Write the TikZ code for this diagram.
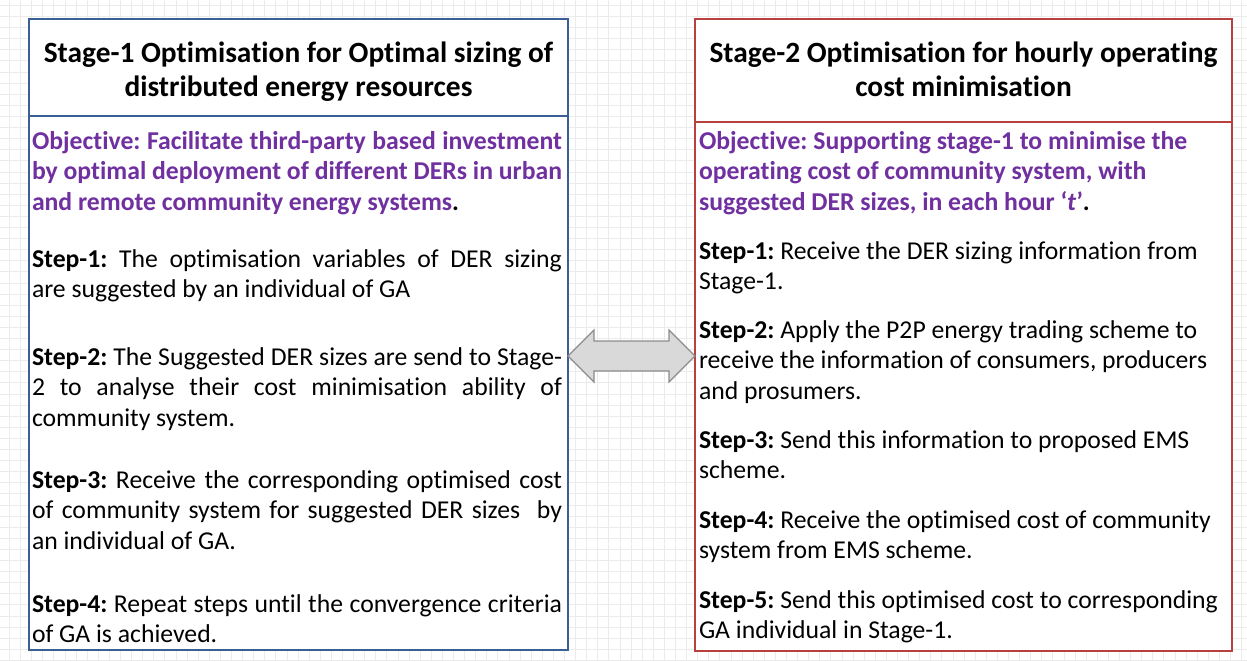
\documentclass[tikz,border=0pt]{standalone}
\usepackage{fontspec}
\setmainfont{Carlito}[Ligatures={NoCommon}]
\usetikzlibrary{calc}
\definecolor{boxblue}{HTML}{3A5F95}
\definecolor{boxred}{HTML}{B8413F}
\definecolor{objpurple}{HTML}{7030A0}
\definecolor{gridcol}{HTML}{EBEBEB}
\definecolor{arrowfill}{HTML}{D9D9D9}
\definecolor{arrowline}{HTML}{8C8C8C}
\newcommand{\bodyfont}{\fontsize{25.7}{30.5}\selectfont\frenchspacing}
\newcommand{\hdrfont}{\fontsize{29.4}{33.5}\selectfont\bfseries}
\newcommand{\jpar}[1]{\parbox[t]{530pt}{\bodyfont\tolerance=10000\hyphenpenalty=10000\rightskip=0pt\parfillskip=0pt plus 1fil #1}}
\newcommand{\rpar}[1]{\parbox[t]{535pt}{\bodyfont\raggedright #1}}
\newcommand{\obj}[1]{\textcolor{objpurple}{\bfseries #1}}
\tikzset{
  stagebox/.style={draw=#1, line width=1.5pt, fill=white, anchor=north west, inner sep=0pt, outer sep=0pt},
  divider/.style={draw=#1, line width=1.5pt},
  txt/.style={anchor=base west, inner sep=0pt, outer sep=0pt},
  hdr/.style={anchor=base, inner sep=0pt, outer sep=0pt},
  blockarrow/.style={fill=arrowfill, draw=arrowline, line width=1.2pt, line join=miter},
  gridline/.style={draw=gridcol, line width=1pt}
}
\begin{document}
\begin{tikzpicture}[x=1pt,y=-1pt]
\useasboundingbox (0,0) rectangle (1247,661);
\fill[white] (0,0) rectangle (1247,661);
\foreach \i in {0,...,113} {\draw[gridline] (9.5+\i*11.1,0) -- (9.5+\i*11.1,661);}
\foreach \j in {0,...,60} {\draw[gridline] (0,5.5+\j*11.1) -- (1247,5.5+\j*11.1);}

% boxes
\node[stagebox=boxblue, minimum width=539pt, minimum height=631pt] (box1) at (29,19) {};
\node[stagebox=boxred, minimum width=537pt, minimum height=632pt] (box2) at (695,19) {};
\draw[divider=boxblue] (box1.west |- 0,116) -- (box1.east |- 0,116);
\draw[divider=boxred] (box2.west |- 0,122) -- (box2.east |- 0,122);

% headers
\node[hdr] (h1) at (298.5,63) {\parbox[t]{535pt}{\centering\hdrfont Stage-1 Optimisation for Optimal sizing of\\ distributed energy resources}};
\node[hdr] (h2) at (963.5,63) {\parbox[t]{535pt}{\centering\hdrfont Stage-2 Optimisation for hourly operating\\ cost minimisation}};

% left body
\node[txt] (lobj) at (32,149) {\jpar{\obj{Objective: Facilitate third-party based investment}\linebreak \obj{by optimal deployment of different DERs in urban}\linebreak \obj{and remote community energy systems}\textbf{.}}};
\node[txt] (ls1) at (32,267) {\jpar{\textbf{Step-1:} The optimisation variables of DER sizing\linebreak are suggested by an individual of GA}};
\node[txt] (ls2) at (32,365) {\jpar{\textbf{Step-2:} The Suggested DER sizes are send to Stage-\linebreak 2 to analyse their cost minimisation ability of\linebreak community system.}};
\node[txt] (ls3) at (32,488) {\jpar{\textbf{Step-3:} Receive the corresponding optimised cost\linebreak of community system for suggested DER sizes\ \ by\linebreak an individual of GA.}};
\node[txt] (ls4) at (32,612) {\jpar{\textbf{Step-4:} Repeat steps until the convergence criteria\linebreak of GA is achieved.}};

% right body
\node[txt] (robj) at (699,149) {\rpar{\obj{Objective: Supporting stage-1 to minimise the}\\ \obj{operating cost of community system, with}\\ \obj{suggested DER sizes, in each hour ‘\textit{t}’}\textbf{.}}};
\node[txt] (rs1) at (699,259) {\rpar{\textbf{Step-1:} Receive the DER sizing information from\\ Stage-1.}};
\node[txt] (rs2) at (699,338) {\rpar{\textbf{Step-2:} Apply the P2P energy trading scheme to\\ receive the information of consumers, producers\\ and prosumers.}};
\node[txt] (rs3) at (699,448) {\rpar{\textbf{Step-3:} Send this information to proposed EMS\\ scheme.}};
\node[txt] (rs4) at (699,528) {\rpar{\textbf{Step-4:} Receive the optimised cost of community\\ system from EMS scheme.}};
\node[txt] (rs5) at (699,608) {\rpar{\textbf{Step-5:} Send this optimised cost to corresponding\\ GA individual in Stage-1.}};

% double block arrow between the boxes
\coordinate (aL) at (box1.east |- 0,356);
\coordinate (aR) at (box2.west |- 0,356);
\draw[blockarrow] (aL) -- ++(26,-26) -- ++(0,11) -- ($(aR)+(-26,-15)$) -- ++(0,-11) -- (aR) -- ++(-26,26) -- ++(0,-11) -- ($(aL)+(26,15)$) -- ++(0,11) -- cycle;
\end{tikzpicture}
\end{document}
